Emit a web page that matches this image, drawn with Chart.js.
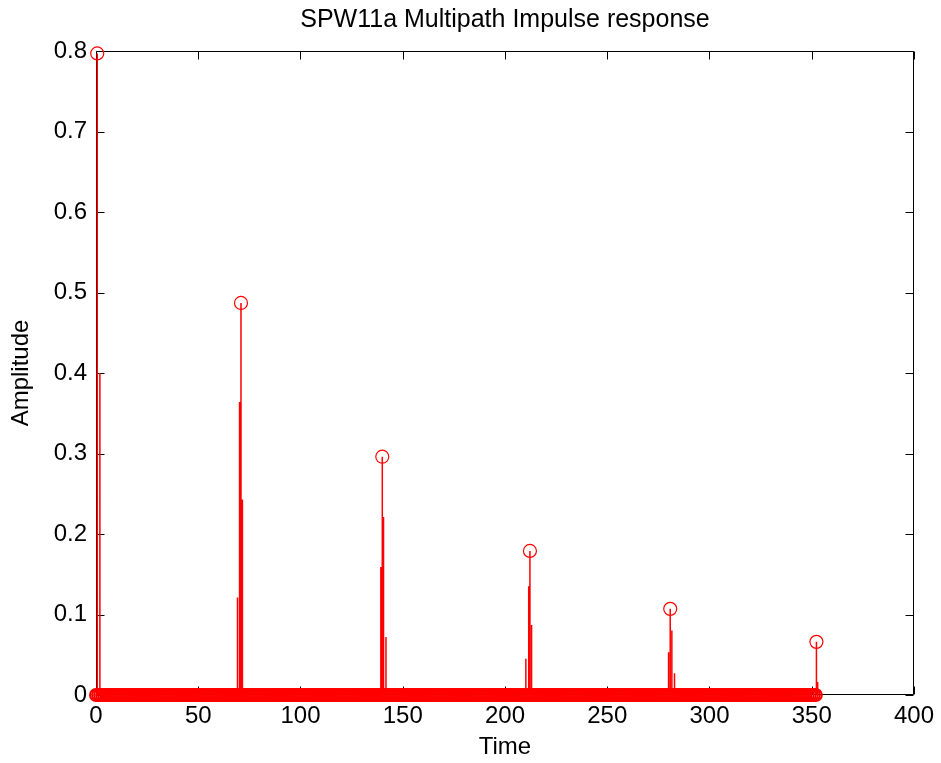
<!DOCTYPE html>
<html>
<head>
<meta charset="utf-8">
<title>SPW11a Multipath Impulse response</title>
<script src="https://cdn.jsdelivr.net/npm/chart.js@4.4.1/dist/chart.umd.min.js"></script>
<style>
  html, body { margin: 0; padding: 0; background: #fff; }
  #chart { display: block; }
</style>
</head>
<body>
<canvas id="chart" width="941" height="763"></canvas>
<script>
// ===== DATA =====
const chartTitle = 'SPW11a Multipath Impulse response';
const xTitle = 'Time';
const yTitle = 'Amplitude';

const xTicks = [0, 50, 100, 150, 200, 250, 300, 350, 400];
const yTicks = [0, 0.1, 0.2, 0.3, 0.4, 0.5, 0.6, 0.7, 0.8];

// one marker per sample, all sitting on zero
const sampleCount = 353;

// main tap of each echo (the ones with a circle on top)
const peakTimes  = [0.6, 70.9, 140.0, 212.2, 280.8, 352.3];
const peakValues = [0.797, 0.487, 0.296, 0.179, 0.107, 0.066];

// the smaller side taps around each echo
const sideTimes  = [1.9, 69.2, 70.2, 71.6, 139.3, 140.6, 141.8, 210.2, 211.6, 213.0, 280.0, 281.6, 282.9, 352.9];
const sideValues = [0.40, 0.121, 0.364, 0.243, 0.159, 0.221, 0.072, 0.045, 0.135, 0.087, 0.053, 0.080, 0.027, 0.016];

// ===== BUILD =====
const RED = '#ff0000';
const FAMILY = '"Liberation Sans", Arial, Helvetica, sans-serif';
const FONT = { family: FAMILY, size: 24 };

const zeroPoints = [];
for (let i = 0; i < sampleCount; i++) zeroPoints.push({ x: i, y: 0 });

const stemPoints = [];
peakTimes.concat(sideTimes).forEach((t, i) => {
    const v = i < peakTimes.length ? peakValues[i] : sideValues[i - peakTimes.length];
    stemPoints.push({ x: t, y: 0 }, { x: t, y: v }, { x: t, y: null });
});

const peakPoints = peakTimes.map((t, i) => ({ x: t, y: peakValues[i] }));

// box round the axes with inward ticks, matlab style
const boxPlugin = {
    id: 'box',
    beforeDatasetsDraw(chart) {
        const { ctx, chartArea: a, scales: { x, y } } = chart;
        const L = Math.round(a.left) + 0.5, R = Math.round(a.right) - 0.5;
        const T = Math.round(a.top) + 0.5, B = Math.round(a.bottom) - 0.5;
        const len = 8;
        ctx.save();
        ctx.strokeStyle = '#000';
        ctx.lineWidth = 1;
        ctx.beginPath();
        ctx.rect(L, T, R - L, B - T);
        xTicks.forEach(v => {
            const px = Math.round(x.getPixelForValue(v)) + 0.5;
            ctx.moveTo(px, B); ctx.lineTo(px, B - len);
            ctx.moveTo(px, T); ctx.lineTo(px, T + len);
        });
        yTicks.forEach(v => {
            const py = Math.round(y.getPixelForValue(v)) + 0.5;
            ctx.moveTo(L, py); ctx.lineTo(L + len, py);
            ctx.moveTo(R, py); ctx.lineTo(R - len, py);
        });
        ctx.stroke();
        ctx.restore();
    }
};

const ctx = document.getElementById('chart').getContext('2d');
const chart = new Chart(ctx, {
    type: 'scatter',
    data: {
        datasets: [
            {
                type: 'line',
                data: stemPoints,
                borderColor: RED,
                borderWidth: 1.5,
                pointRadius: 0,
                spanGaps: false,
                clip: false,
                order: 3
            },
            {
                data: zeroPoints,
                borderColor: RED,
                backgroundColor: 'rgba(0,0,0,0)',
                pointRadius: 6,
                pointBorderWidth: 2,
                clip: false,
                order: 2
            },
            {
                data: peakPoints,
                borderColor: RED,
                backgroundColor: 'rgba(0,0,0,0)',
                pointRadius: 6.5,
                pointBorderWidth: 1.2,
                clip: false,
                order: 1
            }
        ]
    },
    options: {
        responsive: false,
        animation: false,
        devicePixelRatio: 1,
        layout: { padding: { left: 0, right: 24, top: 0, bottom: 0 } },
        plugins: {
            legend: { display: false },
            tooltip: { enabled: false },
            title: { display: false }
        },
        scales: {
            x: {
                type: 'linear',
                position: 'bottom',
                min: 0,
                max: 400,
                afterBuildTicks: s => { s.ticks = xTicks.map(v => ({ value: v })); },
                afterFit: s => { s.height = 68; },
                grid: { display: false, drawTicks: false },
                border: { display: false },
                ticks: { color: '#000', font: FONT, padding: 7, maxRotation: 0, autoSkip: false },
                title: { display: true, text: xTitle, color: '#000', font: FONT, padding: { top: 0, bottom: 1 } }
            },
            xt: {
                type: 'linear',
                position: 'top',
                min: 0,
                max: 400,
                afterFit: s => { s.height = 51; },
                grid: { display: false, drawTicks: false },
                border: { display: false },
                ticks: { display: false },
                title: { display: true, text: chartTitle, color: '#000', font: { family: FAMILY, size: 25 }, padding: { top: 5, bottom: 0 } }
            },
            y: {
                type: 'linear',
                position: 'left',
                min: 0,
                max: 0.8,
                afterBuildTicks: s => { s.ticks = yTicks.map(v => ({ value: v })); },
                afterFit: s => { s.width = 96; },
                grid: { display: false, drawTicks: false },
                border: { display: false },
                ticks: {
                    color: '#000', font: FONT, padding: 9,
                    callback: v => String(Math.round(v * 10) / 10)
                },
                title: { display: true, text: yTitle, color: '#000', font: FONT, padding: { top: 7, bottom: 0 } }
            }
        }
    },
    plugins: [boxPlugin]
});
</script>
</body>
</html>
